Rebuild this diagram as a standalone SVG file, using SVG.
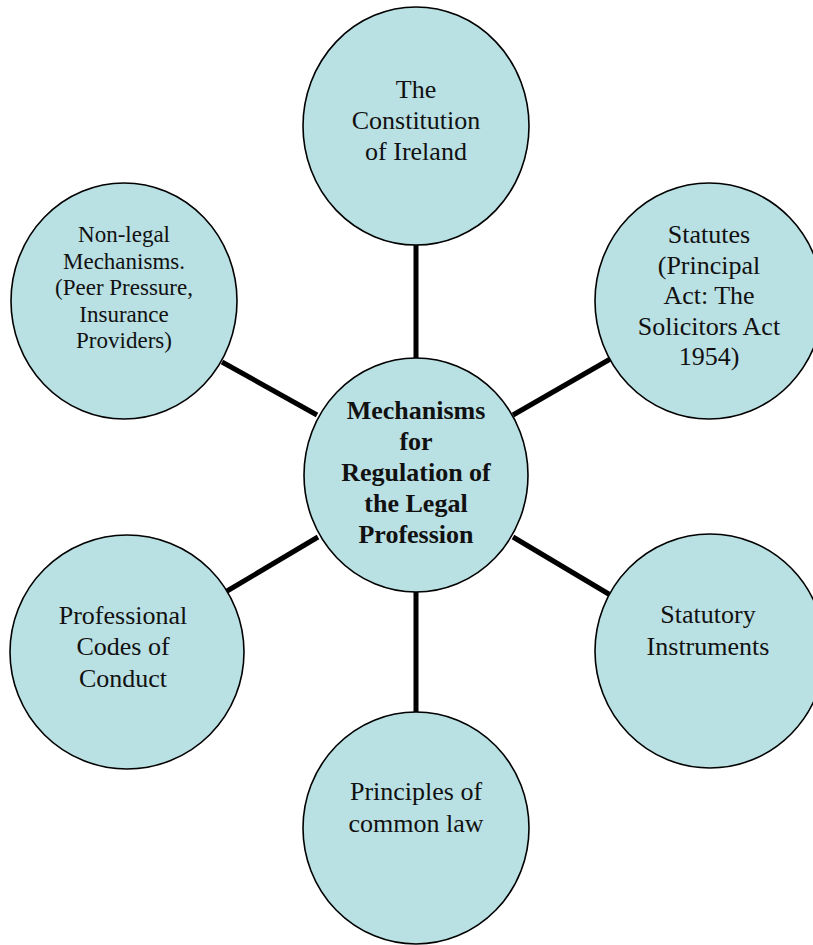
<svg xmlns="http://www.w3.org/2000/svg" width="813" height="945" viewBox="0 0 813 945">
<style>
.c{fill:#b9e0e3;stroke:#000;stroke-width:1.6}
.t{font-family:"Liberation Serif","Times New Roman",serif;font-size:26px;fill:#111;text-anchor:middle}
.s{font-size:23px}
.b{font-weight:bold}
.l{stroke:#000;stroke-width:5;fill:none}
</style>
<rect width="813" height="945" fill="#fff"/>
<g id="connectors">
<line class="l" x1="416" y1="244" x2="416" y2="359"/>
<line class="l" x1="416" y1="591" x2="416" y2="713"/>
<line class="l" x1="222" y1="362" x2="317" y2="415"/>
<line class="l" x1="513" y1="415" x2="612" y2="358"/>
<line class="l" x1="222" y1="594" x2="318" y2="537"/>
<line class="l" x1="513" y1="537" x2="612" y2="596"/>
</g>
<g id="constitution">
<ellipse class="c" cx="416" cy="126" rx="113" ry="119"/>
<text class="t" x="416" y="98">The</text>
<text class="t" x="416" y="129">Constitution</text>
<text class="t" x="416" y="160">of Ireland</text>
</g>
<g id="nonlegal">
<ellipse class="c" cx="124" cy="301" rx="113" ry="118"/>
<text class="t s" x="124" y="242">Non-legal</text>
<text class="t s" x="124" y="268.5">Mechanisms.</text>
<text class="t s" x="124" y="295">(Peer Pressure,</text>
<text class="t s" x="124" y="321.5">Insurance</text>
<text class="t s" x="124" y="348">Providers)</text>
</g>
<g id="statutes">
<ellipse class="c" cx="709" cy="301" rx="114" ry="118"/>
<text class="t" x="709" y="243">Statutes</text>
<text class="t" x="709" y="273.5">(Principal</text>
<text class="t" x="709" y="304">Act: The</text>
<text class="t" x="709" y="334.5">Solicitors Act</text>
<text class="t" x="709" y="365">1954)</text>
</g>
<g id="center">
<ellipse class="c" cx="416" cy="475" rx="112" ry="117"/>
<text class="t b" x="416" y="419">Mechanisms</text>
<text class="t b" x="416" y="450">for</text>
<text class="t b" x="416" y="481">Regulation of</text>
<text class="t b" x="416" y="512">the Legal</text>
<text class="t b" x="416" y="543">Profession</text>
</g>
<g id="codes">
<ellipse class="c" cx="127" cy="652" rx="117" ry="117"/>
<text class="t" x="123" y="624">Professional</text>
<text class="t" x="123" y="655">Codes of</text>
<text class="t" x="123" y="687">Conduct</text>
</g>
<g id="statutory">
<ellipse class="c" cx="710" cy="651" rx="115" ry="117"/>
<text class="t" x="708" y="623">Statutory</text>
<text class="t" x="708" y="655">Instruments</text>
</g>
<g id="commonlaw">
<ellipse class="c" cx="416" cy="828" rx="113" ry="116"/>
<text class="t" x="416" y="800">Principles of</text>
<text class="t" x="416" y="832">common law</text>
</g>
</svg>
